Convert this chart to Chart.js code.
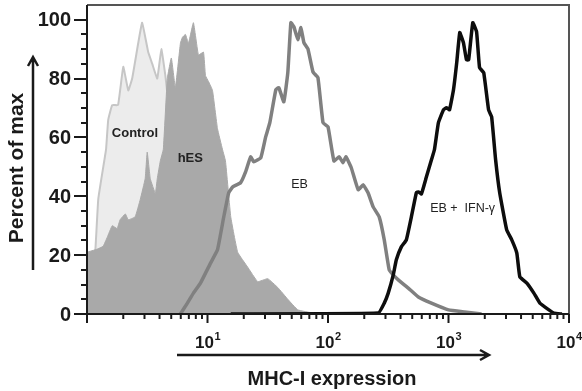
<!DOCTYPE html>
<html>
<head>
<meta charset="utf-8">
<script src="https://cdn.jsdelivr.net/npm/chart.js@4.4.1/dist/chart.umd.min.js"></script>
<style>
  html, body { margin: 0; padding: 0; background: #fff; }
</style>
</head>
<body>
<canvas id="histChart" width="582" height="391"></canvas>
<script>
// MHC-I fluorescence (x, log) vs percent of max (y) for each population
const controlX = [1.0, 1.12, 1.17, 1.24, 1.39, 1.44, 1.5, 1.62, 1.81, 2.0, 2.2, 2.37, 2.66, 2.87, 3.22, 3.48, 3.83, 4.14, 4.47, 4.64, 5.11, 5.96, 7.21];
const controlY = [18, 19, 21, 39, 52, 56, 66, 71, 71, 84, 76, 80, 92, 99, 89, 85, 80, 90, 81, 75, 59, 32, 0];

const hesX = [1.0, 1.21, 1.36, 1.47, 1.62, 1.78, 1.88, 2.08, 2.2, 2.51, 2.77, 3.04, 3.16, 3.35, 3.69, 3.83, 4.06, 4.3, 4.64, 5.01, 5.41, 5.96, 6.19, 6.56, 6.95, 7.64, 8.41, 9.26, 9.62, 10.2, 11.0, 12.1, 13.3, 14.1, 15.6, 17.8, 21.5, 26.1, 31.6, 38.3, 46.4, 56.2, 76.4, 106];
const hesY = [21, 22, 23, 26, 30, 29, 32, 34, 32, 33, 39, 46, 55, 46, 41, 46, 52, 56, 80, 87, 77, 92, 94, 95, 92, 99, 88, 89, 81, 79, 76, 63, 56, 52, 33, 21, 16, 11, 12, 9, 5, 1.4, 0.3, 0];

const ebX = [5.96, 6.81, 7.64, 8.74, 10.6, 12.1, 13.6, 15.0, 16.2, 18.8, 20.7, 22.8, 24.2, 27.7, 30.4, 32.9, 36.9, 39.1, 43.0, 46.4, 49.2, 52.1, 56.2, 59.6, 63.1, 68.1, 75.0, 82.5, 90.9, 100, 112, 124, 133, 141, 156, 178, 196, 215, 237, 266, 293, 322, 348, 383, 464, 562, 722, 1000, 1360, 1880];
const ebY = [0, 3.7, 7.1, 10.5, 17.3, 21.8, 32.7, 41.2, 43.2, 44.6, 48.3, 53.4, 51.7, 53.1, 60.2, 65, 76.2, 76.9, 72.1, 82, 99, 97.6, 93.2, 97.3, 92.2, 90.1, 82.3, 80.3, 65, 63.6, 52, 53.4, 51.4, 53.4, 49.7, 42.2, 43.9, 41.2, 36.4, 33, 25.2, 15, 13.3, 11.6, 8.8, 5.8, 3.7, 1.4, 0.7, 0];

const ifnX = [15.6, 261, 293, 316, 348, 369, 406, 447, 492, 541, 562, 596, 656, 722, 764, 825, 909, 962, 1020, 1100, 1170, 1240, 1330, 1410, 1470, 1590, 1710, 1810, 1960, 2150, 2280, 2460, 2660, 3040, 3350, 3690, 3910, 4470, 5110, 5730, 6810, 7500, 8740];
const ifnY = [0, 0.3, 3.7, 7.1, 13.3, 18.4, 22.8, 25.2, 33, 41.2, 41.5, 40.8, 46.6, 52.4, 55.8, 65, 69.4, 70.1, 69.4, 76.2, 85.4, 95.6, 92.2, 86.4, 86.4, 99, 95.9, 83.7, 82, 69.4, 67, 52.4, 41.2, 28.6, 25.2, 20.7, 12.6, 10.5, 7.1, 3.7, 1.4, 0.3, 0];

// axis ticks
const yTicks = [0, 20, 40, 60, 80, 100];
const xDecades = [1, 10, 100, 1000, 10000];
const xExponents = ["", "1", "2", "3", "4"];

// population labels placed in data coordinates
const popNames = ["Control", "hES", "EB", "EB +  IFN-\u03b3"];
const popLabelX = [2.5, 7.2, 58, 1310];
const popLabelY = [61.5, 53, 44, 35.7];
const popLabelBold = [true, true, false, false];

const FONT = '"Liberation Sans", Arial, sans-serif';

const toPoints = (xs, ys) => xs.map((x, i) => ({ x: x, y: ys[i] }));

// axes, ticks, titles and arrows are drawn by hand around the chart area
const axesPlugin = {
    id: "flowAxes",
    afterDraw(chart) {
        const ctx = chart.ctx;
        const xs = chart.scales.x;
        const ys = chart.scales.y;
        const area = chart.chartArea;
        ctx.save();

        // frame
        ctx.strokeStyle = "#555";
        ctx.lineWidth = 2;
        ctx.beginPath();
        ctx.moveTo(area.left, area.top);
        ctx.lineTo(area.right, area.top);
        ctx.lineTo(area.right, area.bottom);
        ctx.stroke();

        ctx.strokeStyle = "#1a1a1a";
        ctx.beginPath();
        ctx.moveTo(area.left, area.top);
        ctx.lineTo(area.left, area.bottom);
        ctx.lineTo(area.right, area.bottom);
        ctx.stroke();

        // y ticks: major every 20, minor every 5
        ctx.lineWidth = 2;
        for (let v = 0; v <= 100; v += 5) {
            const py = Math.round(ys.getPixelForValue(v));
            const len = v % 20 === 0 ? 13 : 6;
            ctx.beginPath();
            ctx.moveTo(area.left - len, py);
            ctx.lineTo(area.left, py);
            ctx.stroke();
        }
        ctx.fillStyle = "#1a1a1a";
        ctx.font = "bold 20px " + FONT;
        ctx.textAlign = "right";
        ctx.textBaseline = "middle";
        yTicks.forEach((v) => {
            ctx.fillText(String(v), area.left - 16, ys.getPixelForValue(v) + 1);
        });

        // x ticks: decades long, 2..9 short
        xDecades.forEach((d, i) => {
            const px = xs.getPixelForValue(d);
            ctx.beginPath();
            ctx.moveTo(px, area.bottom);
            ctx.lineTo(px, area.bottom + 9);
            ctx.stroke();
            if (i < xDecades.length - 1) {
                for (let m = 2; m <= 9; m++) {
                    const pm = xs.getPixelForValue(d * m);
                    ctx.beginPath();
                    ctx.moveTo(pm, area.bottom);
                    ctx.lineTo(pm, area.bottom + 5);
                    ctx.stroke();
                }
            }
        });

        // decade labels 10^n
        ctx.textAlign = "left";
        ctx.textBaseline = "alphabetic";
        xDecades.forEach((d, i) => {
            if (!xExponents[i]) return;
            const px = xs.getPixelForValue(d);
            ctx.font = "bold 17px " + FONT;
            const w1 = ctx.measureText("10").width;
            ctx.font = "bold 11px " + FONT;
            const w2 = ctx.measureText(xExponents[i]).width;
            const x0 = px - (w1 + w2) / 2;
            ctx.font = "bold 17px " + FONT;
            ctx.fillText("10", x0, area.bottom + 34);
            ctx.font = "bold 11px " + FONT;
            ctx.fillText(xExponents[i], x0 + w1 + 0.5, area.bottom + 26);
        });

        // axis titles
        ctx.font = "bold 20px " + FONT;
        ctx.textAlign = "center";
        ctx.textBaseline = "middle";
        ctx.fillText("MHC-I expression", 332, 379);

        ctx.save();
        ctx.translate(17, 168);
        ctx.rotate(-Math.PI / 2);
        ctx.font = "bold 21px " + FONT;
        ctx.fillText("Percent of max", 0, 0);
        ctx.restore();

        // arrows beside the titles
        ctx.lineWidth = 2.5;
        ctx.beginPath();
        ctx.moveTo(33, 270);
        ctx.lineTo(33, 58);
        ctx.moveTo(28, 66);
        ctx.lineTo(33, 57);
        ctx.lineTo(38, 66);
        ctx.moveTo(177, 355);
        ctx.lineTo(488, 355);
        ctx.moveTo(480, 350);
        ctx.lineTo(489, 355);
        ctx.lineTo(480, 360);
        ctx.stroke();

        // population names
        ctx.fillStyle = "#222";
        popNames.forEach((name, i) => {
            ctx.font = (popLabelBold[i] ? "bold 13px " : "12.5px ") + FONT;
            ctx.fillText(name, xs.getPixelForValue(popLabelX[i]), ys.getPixelForValue(popLabelY[i]));
        });

        ctx.restore();
    },
};

const ctx = document.getElementById("histChart").getContext("2d");
const histChart = new Chart(ctx, {
    type: "line",
    data: {
        datasets: [
            {
                label: "Control",
                data: toPoints(controlX, controlY),
                fill: "origin",
                backgroundColor: "#ececec",
                borderColor: "#c6c6c6",
                borderWidth: 2,
                order: 4,
            },
            {
                label: "hES",
                data: toPoints(hesX, hesY),
                fill: "origin",
                backgroundColor: "#a9a9a9",
                borderColor: "#a9a9a9",
                borderWidth: 1,
                order: 3,
            },
            {
                label: "EB",
                data: toPoints(ebX, ebY),
                fill: false,
                borderColor: "#808080",
                borderWidth: 3.5,
                order: 2,
            },
            {
                label: "EB + IFN-\u03b3",
                data: toPoints(ifnX, ifnY),
                fill: false,
                borderColor: "#0d0d0d",
                borderWidth: 3.5,
                order: 1,
            },
        ],
    },
    options: {
        responsive: false,
        animation: false,
        devicePixelRatio: 1,
        layout: {
            padding: { left: 87, right: 13, top: 5, bottom: 77 },
        },
        elements: {
            point: { radius: 0 },
            line: { tension: 0.1, borderJoinStyle: "round" },
        },
        scales: {
            x: { type: "logarithmic", min: 1, max: 10000, display: false },
            y: { type: "linear", min: 0, max: 105, display: false },
        },
        plugins: {
            legend: { display: false },
            tooltip: { enabled: false },
        },
    },
    plugins: [axesPlugin],
});
</script>
</body>
</html>
